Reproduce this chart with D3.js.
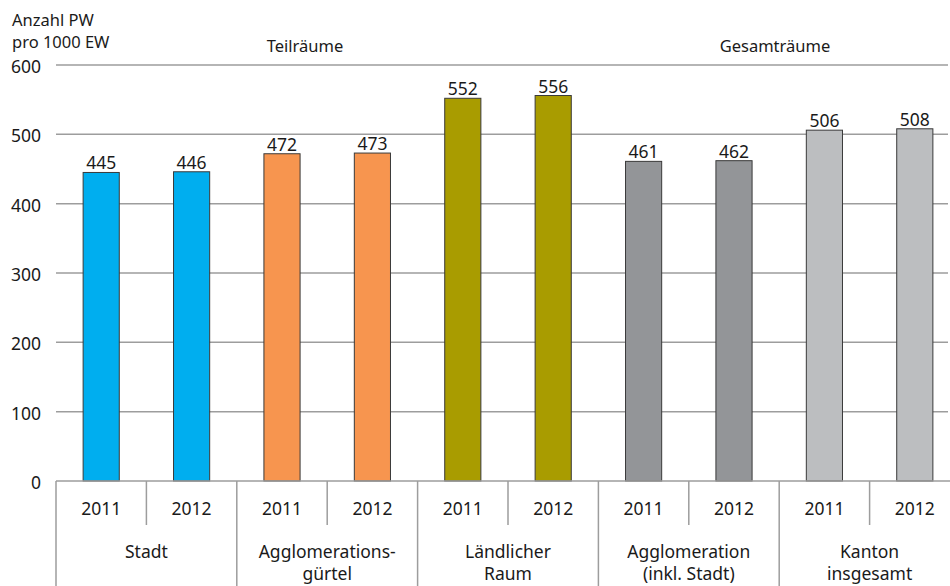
<!DOCTYPE html>
<html>
<head>
<meta charset="utf-8">
<script src="https://cdn.jsdelivr.net/npm/d3@7/dist/d3.min.js"></script>
<style>
  html, body { margin: 0; padding: 0; background: #fff; }
  svg { display: block; }
  text { font-family: "Noto Sans", "Open Sans", sans-serif; fill: #1a1a1a; }
</style>
</head>
<body>
<svg id="chart" width="950" height="586"></svg>
<script>
const groups = [["Stadt"], ["Agglomerations-", "gürtel"], ["Ländlicher", "Raum"], ["Agglomeration", "(inkl. Stadt)"], ["Kanton", "insgesamt"]];
const years = ["2011", "2012"];
const values2011 = [445, 472, 552, 461, 506];
const values2012 = [446, 473, 556, 462, 508];
const groupColors = ["#00aeef", "#f7954f", "#a99c00", "#939598", "#bcbec0"];
const yTicks = [0, 100, 200, 300, 400, 500, 600];
const headers = ["Teilräume", "Gesamträume"];

const svg = d3.select("#chart");
const W = 950, H = 586;
const plotLeft = 56, plotRight = 960, plotTop = 65, plotBase = 481;
const fs = 17.5, fsT = 16.5;

const data = [];
groups.forEach((g, gi) => {
  data.push({key: gi + "-0", group: gi, year: years[0], value: values2011[gi]});
  data.push({key: gi + "-1", group: gi, year: years[1], value: values2012[gi]});
});

const x = d3.scaleBand().domain(data.map(d => d.key)).range([plotLeft, plotRight]).padding(0);
const y = d3.scaleLinear().domain([0, 600]).range([plotBase, plotTop]);
const step = x.bandwidth();
const barW = step * 0.4;

// gridlines
svg.append("g").selectAll("line").data(yTicks.filter(t => t > 0)).join("line")
  .attr("x1", plotLeft).attr("x2", 948)
  .attr("y1", d => y(d)).attr("y2", d => y(d))
  .attr("stroke", "#9d9d9d").attr("stroke-width", 1.5);

// y tick labels
svg.append("g").selectAll("text").data(yTicks).join("text")
  .attr("x", 41).attr("y", d => y(d) + 8)
  .attr("text-anchor", "end").attr("font-size", fs)
  .text(d => d);

// bars
svg.append("g").selectAll("rect").data(data).join("rect")
  .attr("x", d => x(d.key) + (step - barW) / 2)
  .attr("width", barW)
  .attr("y", d => y(d.value))
  .attr("height", d => plotBase - y(d.value))
  .attr("fill", d => groupColors[d.group])
  .attr("stroke", "#3a3a3a").attr("stroke-width", 1);

// value labels
svg.append("g").selectAll("text").data(data).join("text")
  .attr("x", d => x(d.key) + step / 2)
  .attr("y", d => y(d.value) - 3)
  .attr("text-anchor", "middle").attr("font-size", fs)
  .text(d => d.value);

// axis baseline
svg.append("line").attr("x1", plotLeft).attr("x2", 950).attr("y1", plotBase).attr("y2", plotBase)
  .attr("stroke", "#9d9d9d").attr("stroke-width", 1.5);

// year separators (within groups)
svg.append("g").selectAll("line").data(data.filter(d => d.year === years[1])).join("line")
  .attr("x1", d => x(d.key)).attr("x2", d => x(d.key))
  .attr("y1", plotBase).attr("y2", 525)
  .attr("stroke", "#9d9d9d").attr("stroke-width", 1.5);

// group separators
svg.append("g").selectAll("line").data(data.filter(d => d.year === years[0])).join("line")
  .attr("x1", d => x(d.key)).attr("x2", d => x(d.key))
  .attr("y1", plotBase).attr("y2", H)
  .attr("stroke", "#9d9d9d").attr("stroke-width", 1.5);

// year labels
svg.append("g").selectAll("text").data(data).join("text")
  .attr("x", d => x(d.key) + step / 2)
  .attr("y", 515)
  .attr("text-anchor", "middle").attr("font-size", fs)
  .text(d => d.year);

// group labels
const gl = svg.append("g").selectAll("text").data(groups).join("text")
  .attr("x", (d, i) => x(i + "-0") + step)
  .attr("y", 558)
  .attr("text-anchor", "middle").attr("font-size", fs);
gl.selectAll("tspan").data(d => d).join("tspan")
  .attr("x", function() { return d3.select(this.parentNode).attr("x"); })
  .attr("dy", (d, i) => i === 0 ? 0 : 22)
  .text(d => d);

// title
svg.append("text").attr("x", 12).attr("y", 26).attr("font-size", fsT).text("Anzahl PW");
svg.append("text").attr("x", 12).attr("y", 48).attr("font-size", fsT).text("pro 1000 EW");

// headers
svg.append("text").attr("x", 305).attr("y", 52).attr("text-anchor", "middle").attr("font-size", fsT).text(headers[0]);
svg.append("text").attr("x", 775).attr("y", 52).attr("text-anchor", "middle").attr("font-size", fsT).text(headers[1]);
</script>
</body>
</html>
